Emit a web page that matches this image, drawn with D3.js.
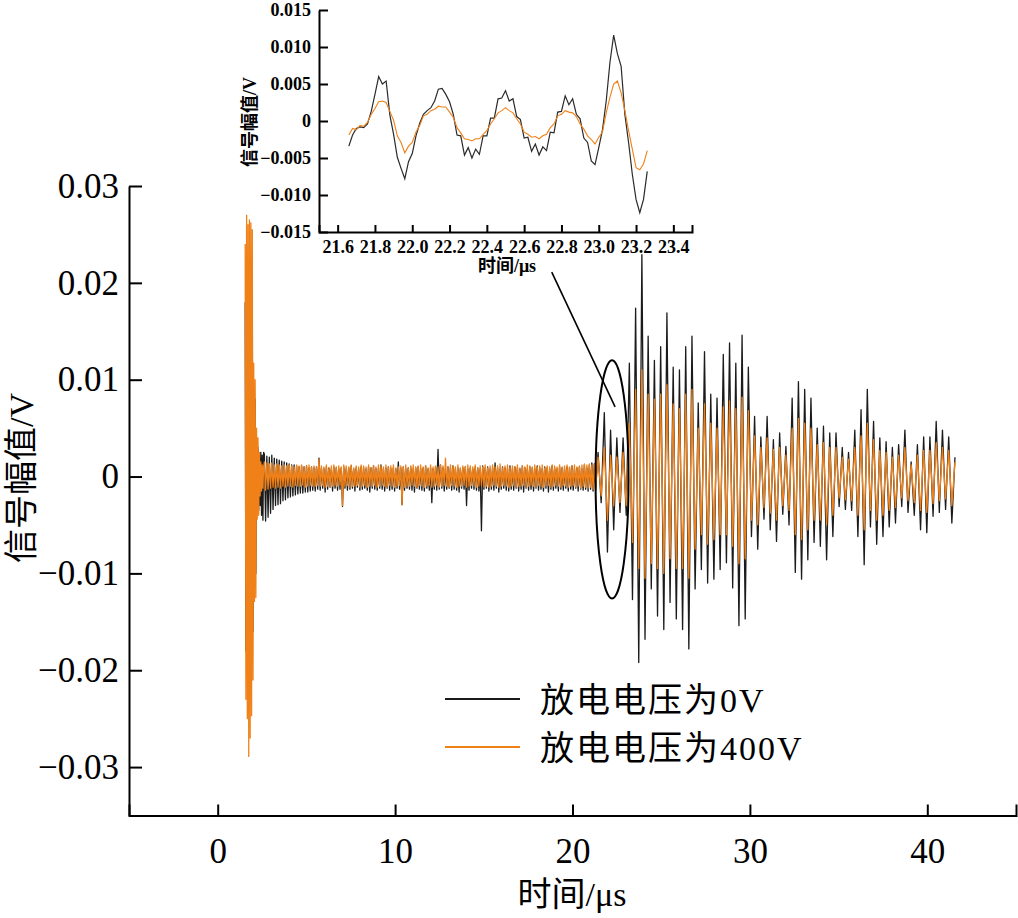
<!DOCTYPE html>
<html><head><meta charset="utf-8">
<script src="https://cdn.jsdelivr.net/npm/d3@7"></script>
<style>body{margin:0;background:#fff}svg{display:block}</style>
</head><body>
<svg id="c" width="1018" height="918"></svg>
<script>
// ---------------- DATA ----------------
const seriesNames = ["放电电压为0V", "放电电压为400V"];
const seriesColors = ["#1b1b1b", "#f08118"];

// main chart ticks
const xTicksMain = [0, 10, 20, 30, 40];
const xTickLabelsMain = ["0", "10", "20", "30", "40"];
const yTicksMain = [0.03, 0.02, 0.01, 0, -0.01, -0.02, -0.03];
const yTickLabelsMain = ["0.03", "0.02", "0.01", "0", "−0.01", "−0.02", "−0.03"];

// time spans (µs) of the three signal segments: [start, end]
const burstSpan = [1.55, 2.59];
const noiseSpan = [2.63, 21.3];
const echoSpan = [21.44, 41.56];

// 0 V signal (V)
const burst0V = [0.018,-0.018,0.02,-0.02,0.02,-0.022,0.02,-0.02,0.019,-0.019,0.018,-0.016,0.009,-0.01,0.008,-0.01,0.004,-0.0035,0.003,-0.0035,0.002,-0.003,0.0025,-0.004,0.0022,-0.0045,0.0025];
const noise0V = [
0.0023,-0.0046,0.0021,-0.0042,0.002,-0.0038,0.0022,-0.0034,0.0019,-0.003,0.0018,-0.0029,0.0017,-0.0028,0.0016,-0.0025,0.0015,-0.0024,0.0014,-0.0022,
0.0013,-0.0021,0.0012,-0.002,0.0012,-0.0019,0.0011,-0.0018,0.001,-0.0017,0.0011,-0.0017,0.001,-0.0016,0.0011,-0.0016,0.0009,-0.0015,0.001,-0.0014,
0.0009,-0.0015,0.001,-0.0013,0.0019,-0.0014,0.0009,-0.0012,0.0008,-0.0016,0.001,-0.0013,0.0009,-0.0011,0.0008,-0.0015,0.001,-0.0012,0.0009,-0.0014,
0.0008,-0.0013,0.0009,-0.0031,0.001,-0.0012,0.0008,-0.0014,0.0009,-0.0013,0.0011,-0.0012,0.0008,-0.0015,0.0009,-0.0011,0.0008,-0.0014,0.001,-0.0013,
0.0009,-0.0012,0.0008,-0.0014,0.001,-0.0016,0.0009,-0.0012,0.0011,-0.0013,0.0008,-0.0014,0.0009,-0.0012,0.0012,-0.0013,0.0008,-0.0015,0.0009,-0.0012,
0.001,-0.0014,0.0008,-0.0013,0.0009,-0.0015,0.0008,-0.0012,0.0015,-0.0013,0.0009,-0.0029,0.001,-0.0014,0.0008,-0.0012,0.0009,-0.0013,0.001,-0.0014,
0.0008,-0.0016,0.0009,-0.0012,0.001,-0.0013,0.0008,-0.0014,0.0009,-0.0015,0.0011,-0.0012,0.0008,-0.0014,0.0009,-0.0027,0.0008,-0.0013,0.001,-0.0014,
0.0028,-0.0013,0.0012,-0.0012,0.0009,-0.0015,0.0008,-0.0013,0.001,-0.0012,0.0009,-0.0014,0.0011,-0.0013,0.0008,-0.0014,0.0009,-0.0016,0.0008,-0.0012,
0.0009,-0.0013,0.001,-0.003,0.0008,-0.0014,0.0009,-0.0012,0.0008,-0.0013,0.001,-0.0014,0.0009,-0.0015,0.0008,-0.0056,0.0011,-0.0013,0.0009,-0.0012,
0.001,-0.0015,0.0008,-0.0013,0.0009,-0.0014,0.0014,-0.0012,0.0009,-0.0016,0.0008,-0.0013,0.001,-0.0012,0.0009,-0.0014,0.0008,-0.0015,0.0011,-0.0013,
0.0008,-0.0014,0.001,-0.0012,0.0009,-0.0015,0.0008,-0.0013,0.0011,-0.0016,0.0009,-0.0012,0.0008,-0.0014,0.001,-0.0013,0.0009,-0.0015,0.0008,-0.0012,
0.0011,-0.0014,0.0009,-0.0013,0.0008,-0.0015,0.001,-0.0012,0.0009,-0.0016,0.0008,-0.0013,0.0011,-0.0014,0.0009,-0.0012,0.0008,-0.0015,0.001,-0.0013,
0.0009,-0.0014,0.0008,-0.0012,0.001,-0.0015,0.0009,-0.0013,0.0011,-0.0014,0.0008,-0.0012,0.0009,-0.0015,0.001,-0.0013,0.0008,-0.0014,0.0012,-0.0013,
0.0009,-0.0015,0.0012,-0.0013,0.0014,-0.0015,0.0013,-0.0014];
const echo0V = [
0.0025,-0.0027,0.0066,-0.0078,0.0048,-0.0055,0.004,-0.0037,0.004,-0.004,
0.0117,-0.0127,0.0174,-0.0192,0.0229,-0.0168,0.0145,-0.0116,0.012,-0.0144,
0.0134,-0.0158,0.0169,-0.013,0.0113,-0.0147,0.011,-0.0158,0.0134,-0.0178,
0.0145,-0.0116,0.0076,-0.0096,0.0129,-0.011,0.0085,-0.0106,0.0081,-0.0096,
0.0126,-0.0089,0.0138,-0.0115,0.0117,-0.0154,0.0146,-0.0147,0.0113,-0.0062,
0.0062,-0.0075,0.0041,-0.0044,0.0062,-0.0055,0.0038,-0.0067,0.0045,-0.0039,
0.0031,-0.005,0.0081,-0.0099,0.0098,-0.0106,0.009,-0.0086,0.0081,-0.0068,
0.005,-0.0072,0.0052,-0.0086,0.0045,-0.0062,0.0045,-0.0031,0.003,-0.0034,
0.0025,-0.0035,0.0048,-0.0062,0.0069,-0.0091,0.009,-0.0052,0.0057,-0.007,
0.004,-0.0062,0.0036,-0.0052,0.003,-0.0048,0.0033,-0.0031,0.0048,-0.0037,
0.0015,-0.004,0.0033,-0.0055,0.0041,-0.0058,0.0041,-0.0041,0.0057,-0.0037,
0.0048,-0.0034,0.0041,-0.0048,0.002];

// 400 V signal (V)
const burst400V = [0.024,-0.023,0.027,-0.025,0.026,-0.0289,0.0265,-0.027,0.0262,-0.0247,0.0255,-0.021,0.0117,-0.0129,0.01,-0.0125,0.005,-0.0044,0.004,-0.004,0.0025,-0.002,0.0015,-0.0015,0.0012,-0.0012,0.001];
const noise400V = [
0.0015,-0.0014,0.0014,-0.0013,0.0013,-0.0012,0.0014,-0.0011,0.0012,-0.0012,0.0013,-0.0011,0.0012,-0.0012,0.0011,-0.001,0.0012,-0.0011,0.0011,-0.001,
0.0012,-0.001,0.0011,-0.0011,0.001,-0.0009,0.0012,-0.001,0.0011,-0.001,0.0012,-0.0009,0.001,-0.0011,0.0011,-0.001,0.0012,-0.0009,0.001,-0.001,
0.0011,-0.001,0.001,-0.0009,0.0018,-0.001,0.0011,-0.0009,0.001,-0.0011,0.0012,-0.001,0.0009,-0.0011,0.0011,-0.001,0.0012,-0.0009,0.001,-0.001,
0.0011,-0.0009,0.001,-0.003,0.0012,-0.001,0.0011,-0.0009,0.001,-0.0011,0.0012,-0.001,0.0009,-0.001,0.0011,-0.0009,0.001,-0.0011,0.0012,-0.001,
0.0011,-0.0009,0.001,-0.0011,0.0012,-0.001,0.0009,-0.001,0.0011,-0.0009,0.001,-0.0011,0.0012,-0.001,0.0011,-0.0009,0.001,-0.001,0.0012,-0.0011,
0.001,-0.0009,0.0011,-0.001,0.0012,-0.0011,0.0009,-0.001,0.001,-0.0009,0.0011,-0.0029,0.001,-0.0011,0.0012,-0.001,0.0009,-0.001,0.0011,-0.0009,
0.0012,-0.001,0.001,-0.0011,0.0011,-0.0009,0.0012,-0.001,0.001,-0.0011,0.0011,-0.001,0.0009,-0.0009,0.0012,-0.0011,0.001,-0.001,0.0011,-0.0009,
0.001,-0.0011,0.0012,-0.001,0.0011,-0.0009,0.0019,-0.001,0.001,-0.0011,0.0012,-0.0009,0.0011,-0.001,0.001,-0.0011,0.0012,-0.001,0.0009,-0.001,
0.0011,-0.0009,0.001,-0.0011,0.0012,-0.001,0.0011,-0.0009,0.001,-0.001,0.0012,-0.0011,0.0009,-0.001,0.0011,-0.0009,0.001,-0.0011,0.0012,-0.001,
0.0009,-0.0011,0.0011,-0.001,0.0012,-0.0009,0.001,-0.001,0.0011,-0.0011,0.0013,-0.001,0.0009,-0.0009,0.0011,-0.001,0.0012,-0.0011,0.001,-0.001,
0.0011,-0.0009,0.001,-0.0011,0.0012,-0.001,0.0009,-0.001,0.0011,-0.0009,0.001,-0.0011,0.0012,-0.001,0.0011,-0.0009,0.001,-0.001,0.0012,-0.0011,
0.001,-0.0009,0.0011,-0.001,0.0012,-0.0011,0.0009,-0.001,0.0011,-0.0009,0.001,-0.0011,0.0012,-0.001,0.0011,-0.0009,0.001,-0.001,0.0012,-0.0011,
0.001,-0.0009,0.0011,-0.001,0.0012,-0.0011,0.001,-0.001,0.0011,-0.0009,0.0012,-0.0011,0.001,-0.001,0.0011,-0.0012,0.0012,-0.001,0.0013,-0.0011,
0.0012,-0.0012,0.0013,-0.0011,0.0012,-0.0013,0.0013,-0.0012];
const echo400V = [
0.002,-0.002,0.003,-0.0045,0.0022,-0.003,0.002,-0.0027,0.0025,-0.003,
0.0055,-0.0068,0.009,-0.0095,0.011,-0.0105,0.0085,-0.009,0.008,-0.0095,
0.0085,-0.01,0.0095,-0.0085,0.0075,-0.0095,0.007,-0.0095,0.0085,-0.0105,
0.009,-0.0075,0.005,-0.006,0.0075,-0.007,0.0055,-0.0065,0.005,-0.006,
0.0072,-0.006,0.0078,-0.0072,0.007,-0.009,0.0082,-0.0085,0.0068,-0.0045,
0.0042,-0.005,0.003,-0.0032,0.004,-0.0038,0.0028,-0.0045,0.003,-0.003,
0.0022,-0.0035,0.005,-0.006,0.006,-0.0065,0.0055,-0.0055,0.005,-0.0045,
0.0033,-0.0045,0.0035,-0.005,0.003,-0.004,0.003,-0.0022,0.002,-0.0024,
0.0018,-0.0025,0.003,-0.004,0.0042,-0.0055,0.0055,-0.0035,0.0038,-0.0045,
0.0027,-0.004,0.0025,-0.0035,0.002,-0.0032,0.0022,-0.0022,0.003,-0.0025,
0.0012,-0.0027,0.0022,-0.0035,0.0027,-0.0037,0.0027,-0.0028,0.0035,-0.0025,
0.003,-0.0023,0.0027,-0.003,0.0015];

// inset (zoom of 21.6 – 23.3 µs)
const insetSpan = [21.66, 23.26];
const xTicksInset = [21.6, 21.8, 22.0, 22.2, 22.4, 22.6, 22.8, 23.0, 23.2, 23.4];
const xTickLabelsInset = ["21.6","21.8","22.0","22.2","22.4","22.6","22.8","23.0","23.2","23.4"];
const yTicksInset = [0.015, 0.01, 0.005, 0, -0.005, -0.01, -0.015];
const yTickLabelsInset = ["0.015","0.010","0.005","0","−0.005","−0.010","−0.015"];
const inset0V = [
-0.0034,-0.0019,-0.0010,-0.0008,-0.0009,-0.0004,0.0013,0.0036,0.0060,0.0050,
0.0054,0.0008,-0.0018,-0.0049,-0.0064,-0.0078,-0.0055,-0.0044,-0.0020,-0.0003,
0.0009,0.0014,0.0018,0.0027,0.0043,0.0044,0.0036,0.0026,0.0009,-0.0019,
-0.0020,-0.0046,-0.0036,-0.0050,-0.0038,-0.0045,-0.0020,-0.0020,0.0004,0.0004,
0.0030,0.0031,0.0041,0.0027,0.0030,0.0006,0.0002,-0.0023,-0.0022,-0.0041,
-0.0031,-0.0046,-0.0035,-0.0040,-0.0015,-0.0016,0.0012,0.0013,0.0034,0.0022,
0.0030,0.0009,0.0003,-0.0023,-0.0029,-0.0054,-0.0059,-0.0036,-0.0012,0.0027,
0.0079,0.0116,0.0091,0.0074,0.0009,-0.0029,-0.0072,-0.0106,-0.0124,-0.0106,
-0.0068];
const inset400V = [
-0.0019,-0.0010,-0.0012,-0.0006,-0.0007,-0.0002,0.0009,0.0017,0.0026,0.0027,
0.0025,0.0013,0.0001,-0.0020,-0.0029,-0.0043,-0.0034,-0.0029,-0.0015,-0.0006,
0.0007,0.0009,0.0014,0.0016,0.0020,0.0019,0.0019,0.0012,0.0005,-0.0009,
-0.0016,-0.0024,-0.0025,-0.0027,-0.0024,-0.0024,-0.0018,-0.0013,-0.0004,0.0003,
0.0011,0.0014,0.0018,0.0014,0.0011,0.0003,-0.0004,-0.0015,-0.0018,-0.0022,
-0.0021,-0.0024,-0.0020,-0.0018,-0.0009,-0.0004,0.0007,0.0009,0.0014,0.0012,
0.0011,0.0006,-0.0004,-0.0011,-0.0020,-0.0025,-0.0031,-0.0022,-0.0015,0.0011,
0.0032,0.0050,0.0054,0.0038,0.0014,-0.0013,-0.0038,-0.0063,-0.0066,-0.0058,
-0.0040];

// annotation (data units of main chart): ellipse round the zoomed window, callout line
const ellipseCenter = [22.23, -0.0003];
const ellipseRadius = [0.93, 0.0123];
const calloutFrom = [18.83, 0.0211];
const calloutTo = [22.4, 0.0072];

// ---------------- DRAW ----------------
const svg = d3.select("#c");
const FONT = "'Liberation Serif','Times New Roman','Noto Sans CJK SC',serif";
svg.append("rect").attr("width", 1018).attr("height", 918).attr("fill", "#fff");

const x = d3.scaleLinear().domain([-5, 45]).range([129, 1016]);
const y = d3.scaleLinear().domain([-0.035, 0.03]).range([815.5, 186]);

function spread(span, vals) {
  const n = vals.length;
  return vals.map((v, i) => [span[0] + (span[1] - span[0]) * i / (n - 1), v]);
}
const main0V = [].concat(spread(burstSpan, burst0V), spread(noiseSpan, noise0V), spread(echoSpan, echo0V));
const main400V = [].concat(spread(burstSpan, burst400V), spread(noiseSpan, noise400V), spread(echoSpan, echo400V));

const line = d3.line().x(d => x(d[0])).y(d => y(d[1]));
svg.append("path").datum(main0V).attr("d", line).attr("fill", "none")
  .attr("stroke", seriesColors[0]).attr("stroke-width", 1.3).attr("stroke-linejoin", "round");
svg.append("path").datum(main400V).attr("d", line).attr("fill", "none")
  .attr("stroke", seriesColors[1]).attr("stroke-width", 1.3).attr("stroke-linejoin", "round");

// axes
const gx = svg.append("g").attr("transform", `translate(0,${y.range()[0]})`)
  .call(d3.axisBottom(x).tickValues(xTicksMain).tickFormat((d, i) => xTickLabelsMain[i])
    .tickSizeInner(-11).tickSizeOuter(-11).tickPadding(23));
const gy = svg.append("g").attr("transform", `translate(${x.range()[0]},0)`)
  .call(d3.axisLeft(y).tickValues(yTicksMain).tickFormat((d, i) => yTickLabelsMain[i])
    .tickSizeInner(-13).tickSizeOuter(0).tickPadding(10));
[gx, gy].forEach(g => {
  g.attr("font-family", FONT).attr("font-size", 35);
  g.selectAll("path,line").attr("stroke", "#000").attr("stroke-width", 2);
  g.selectAll("text").attr("fill", "#000");
});

// axis titles
svg.append("text").attr("x", 572).attr("y", 906).attr("text-anchor", "middle")
  .attr("font-family", FONT).attr("font-size", 34).text("时间/μs");
svg.append("text").attr("transform", "translate(33,478) rotate(-90)").attr("text-anchor", "middle")
  .attr("font-family", FONT).attr("font-size", 34).text("信号幅值/V");

// legend
const leg = svg.append("g");
seriesNames.forEach((name, i) => {
  const yy = 699 + i * 48;
  leg.append("line").attr("x1", 445).attr("x2", 520).attr("y1", yy).attr("y2", yy)
    .attr("stroke", seriesColors[i]).attr("stroke-width", 2);
  leg.append("text").attr("x", 540).attr("y", yy + 13).attr("font-family", FONT)
    .attr("font-size", 34).attr("letter-spacing", 2).text(name);
});

// ellipse + callout
svg.append("ellipse").attr("cx", x(ellipseCenter[0])).attr("cy", y(ellipseCenter[1]))
  .attr("rx", x(ellipseCenter[0] + ellipseRadius[0]) - x(ellipseCenter[0]))
  .attr("ry", y(ellipseCenter[1]) - y(ellipseCenter[1] + ellipseRadius[1]))
  .attr("fill", "none").attr("stroke", "#000").attr("stroke-width", 2);
svg.append("line").attr("x1", x(calloutFrom[0])).attr("y1", y(calloutFrom[1]))
  .attr("x2", x(calloutTo[0])).attr("y2", y(calloutTo[1]))
  .attr("stroke", "#000").attr("stroke-width", 1.6);

// ---------------- INSET ----------------
const xi = d3.scaleLinear().domain([21.5, 23.5]).range([319, 692]);
const yi = d3.scaleLinear().domain([-0.015, 0.015]).range([232, 10]);
const lineI = d3.line().x(d => xi(d[0])).y(d => yi(d[1]));
svg.append("path").datum(spread(insetSpan, inset0V)).attr("d", lineI).attr("fill", "none")
  .attr("stroke", "#2a2a2a").attr("stroke-width", 1.2);
svg.append("path").datum(spread(insetSpan, inset400V)).attr("d", lineI).attr("fill", "none")
  .attr("stroke", seriesColors[1]).attr("stroke-width", 1.1);

const gxi = svg.append("g").attr("transform", `translate(0,${yi.range()[0]})`)
  .call(d3.axisBottom(xi).tickValues(xTicksInset).tickFormat((d, i) => xTickLabelsInset[i])
    .tickSizeInner(-7).tickSizeOuter(-7).tickPadding(8));
const gyi = svg.append("g").attr("transform", `translate(${xi.range()[0]},0)`)
  .call(d3.axisLeft(yi).tickValues(yTicksInset).tickFormat((d, i) => yTickLabelsInset[i])
    .tickSizeInner(-9).tickSizeOuter(0).tickPadding(8));
[gxi, gyi].forEach(g => {
  g.attr("font-family", FONT).attr("font-size", 18).attr("font-weight", "bold");
  g.selectAll("path,line").attr("stroke", "#000").attr("stroke-width", 2);
  g.selectAll("text").attr("fill", "#000");
});
svg.append("text").attr("x", 507).attr("y", 272).attr("text-anchor", "middle")
  .attr("font-family", FONT).attr("font-size", 18).attr("font-weight", "bold").text("时间/μs");
svg.append("text").attr("transform", "translate(256,122) rotate(-90)").attr("text-anchor", "middle")
  .attr("font-family", FONT).attr("font-size", 18).attr("font-weight", "bold").text("信号幅值/V");
</script>
</body></html>
